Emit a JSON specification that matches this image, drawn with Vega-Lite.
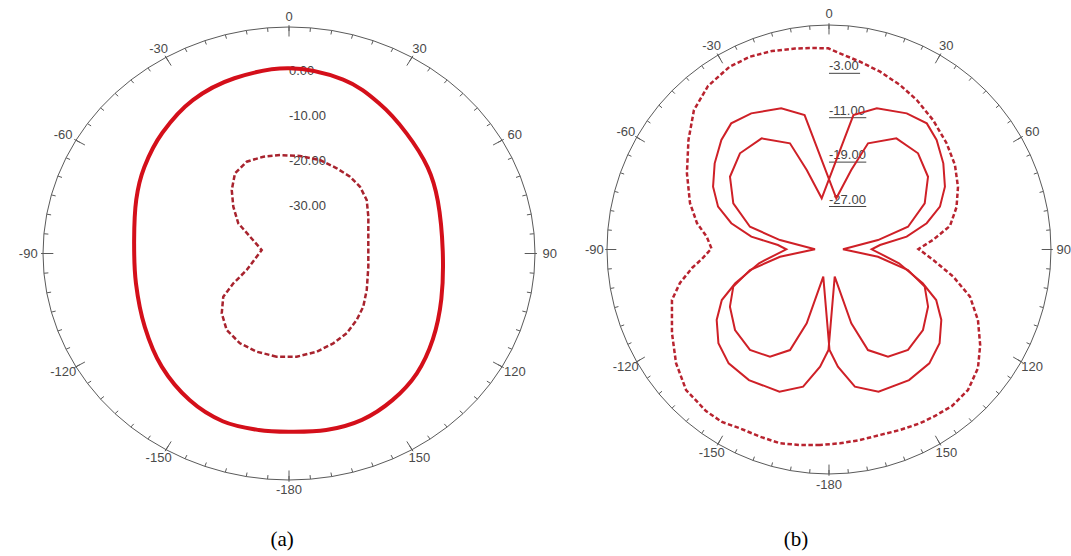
{
  "$schema": "https://vega.github.io/schema/vega-lite/v6.json",
  "padding": 0,
  "autosize": {"type": "pad"},
  "spacing": 0,
  "bounds": "flush",
  "background": "white",
  "config": {"view": {"stroke": null}, "text": {"font": "Liberation Sans"}},
  "datasets": {
    "ticks": [
      {"angle": -175}, {"angle": -170}, {"angle": -165}, {"angle": -160}, {"angle": -155}, {"angle": -150},
      {"angle": -145}, {"angle": -140}, {"angle": -135}, {"angle": -130}, {"angle": -125}, {"angle": -120},
      {"angle": -115}, {"angle": -110}, {"angle": -105}, {"angle": -100}, {"angle": -95}, {"angle": -90},
      {"angle": -85}, {"angle": -80}, {"angle": -75}, {"angle": -70}, {"angle": -65}, {"angle": -60},
      {"angle": -55}, {"angle": -50}, {"angle": -45}, {"angle": -40}, {"angle": -35}, {"angle": -30},
      {"angle": -25}, {"angle": -20}, {"angle": -15}, {"angle": -10}, {"angle": -5}, {"angle": 0},
      {"angle": 5}, {"angle": 10}, {"angle": 15}, {"angle": 20}, {"angle": 25}, {"angle": 30},
      {"angle": 35}, {"angle": 40}, {"angle": 45}, {"angle": 50}, {"angle": 55}, {"angle": 60},
      {"angle": 65}, {"angle": 70}, {"angle": 75}, {"angle": 80}, {"angle": 85}, {"angle": 90},
      {"angle": 95}, {"angle": 100}, {"angle": 105}, {"angle": 110}, {"angle": 115}, {"angle": 120},
      {"angle": 125}, {"angle": 130}, {"angle": 135}, {"angle": 140}, {"angle": 145}, {"angle": 150},
      {"angle": 155}, {"angle": 160}, {"angle": 165}, {"angle": 170}, {"angle": 175}, {"angle": 180}
    ],
    "angleLabels": [
      {"angle": 0, "label": "0"}, {"angle": 30, "label": "30"}, {"angle": 60, "label": "60"},
      {"angle": 90, "label": "90"}, {"angle": 120, "label": "120"}, {"angle": 150, "label": "150"},
      {"angle": 180, "label": "-180"}, {"angle": -150, "label": "-150"}, {"angle": -120, "label": "-120"},
      {"angle": -90, "label": "-90"}, {"angle": -60, "label": "-60"}, {"angle": -30, "label": "-30"}
    ],
    "captionA": [{"label": "(a)"}],
    "captionB": [{"label": "(b)"}],
    "radialA": [
      {"gain": 0, "label": "0.00"}, {"gain": -10, "label": "-10.00"},
      {"gain": -20, "label": "-20.00"}, {"gain": -30, "label": "-30.00"}
    ],
    "radialB": [
      {"gain": -3, "label": "-3.00"}, {"gain": -11, "label": "-11.00"},
      {"gain": -19, "label": "-19.00"}, {"gain": -27, "label": "-27.00"}
    ],
    "solidA": [
      {"angle": -171, "gain": -0.81}, {"angle": -160, "gain": -0.86}, {"angle": -148, "gain": -2.12},
      {"angle": -134, "gain": -4.33}, {"angle": -119, "gain": -6.8}, {"angle": -102, "gain": -8.51},
      {"angle": -85, "gain": -8.71}, {"angle": -69, "gain": -7.05}, {"angle": -57, "gain": -5.24},
      {"angle": -44, "gain": -3.23}, {"angle": -30, "gain": -1.17}, {"angle": -16, "gain": -0.01},
      {"angle": 0, "gain": 0.62}, {"angle": 16, "gain": -0.34}, {"angle": 29, "gain": -2.42},
      {"angle": 42, "gain": -4.59}, {"angle": 56, "gain": -6.3}, {"angle": 69, "gain": -7.91},
      {"angle": 89, "gain": -9.06}, {"angle": 108, "gain": -7.75}, {"angle": 123, "gain": -5.44},
      {"angle": 135.5, "gain": -3.2}, {"angle": 147, "gain": -1.67}, {"angle": 158, "gain": -0.66},
      {"angle": 169, "gain": -0.56}, {"angle": 180, "gain": -0.91}
    ],
    "dashedA": [
      {"angle": -173.7, "gain": -17.45}, {"angle": -163.2, "gain": -17.71}, {"angle": -153.3, "gain": -18.18},
      {"angle": -143.1, "gain": -19.27}, {"angle": -134.0, "gain": -21.38}, {"angle": -125.5, "gain": -23.99},
      {"angle": -120.2, "gain": -27.33}, {"angle": -113.0, "gain": -31.1}, {"angle": -82.1, "gain": -34.86},
      {"angle": -64.9, "gain": -31.7}, {"angle": -57.1, "gain": -28.15}, {"angle": -47.6, "gain": -25.08},
      {"angle": -39.7, "gain": -22.17}, {"angle": -31.8, "gain": -19.54}, {"angle": -23.0, "gain": -18.35},
      {"angle": -13.7, "gain": -18.37}, {"angle": -4.8, "gain": -18.55}, {"angle": 5.9, "gain": -18.73},
      {"angle": 17.0, "gain": -18.79}, {"angle": 27.3, "gain": -19.21}, {"angle": 36.2, "gain": -19.37},
      {"angle": 44.4, "gain": -19.75}, {"angle": 53.2, "gain": -20.66}, {"angle": 63.3, "gain": -22.34},
      {"angle": 79.5, "gain": -24.01}, {"angle": 100.2, "gain": -24.02}, {"angle": 117.0, "gain": -22.66},
      {"angle": 127.9, "gain": -21.26}, {"angle": 136.9, "gain": -20.26}, {"angle": 146.3, "gain": -19.21},
      {"angle": 155.6, "gain": -18.59}, {"angle": 165.4, "gain": -17.97}, {"angle": 176.1, "gain": -17.53}
    ],
    "solidB": [
      {"series": "P", "angle": -168.0, "gain": -30.99}, {"series": "P", "angle": -163.0, "gain": -22.1},
      {"series": "P", "angle": -158.6, "gain": -16.54}, {"series": "P", "angle": -150.9, "gain": -13.89},
      {"series": "P", "angle": -141.5, "gain": -12.87}, {"series": "P", "angle": -130.3, "gain": -13.55},
      {"series": "P", "angle": -119.7, "gain": -15.22}, {"series": "P", "angle": -111.0, "gain": -17.32},
      {"series": "P", "angle": -104.4, "gain": -21.14}, {"series": "P", "angle": -98.3, "gain": -26.98},
      {"series": "P", "angle": -89.2, "gain": -33.45}, {"series": "P", "angle": -79.2, "gain": -26.91},
      {"series": "P", "angle": -74.1, "gain": -21.03}, {"series": "P", "angle": -64.5, "gain": -16.68},
      {"series": "P", "angle": -54.0, "gain": -13.7}, {"series": "P", "angle": -43.1, "gain": -12.26},
      {"series": "P", "angle": -31.5, "gain": -12.51}, {"series": "P", "angle": -20.4, "gain": -15.59},
      {"series": "P", "angle": -15.8, "gain": -21.11}, {"series": "P", "angle": -8.2, "gain": -26.68},
      {"series": "P", "angle": 10.4, "gain": -11.37}, {"series": "P", "angle": 18.9, "gain": -9.11},
      {"series": "P", "angle": 30.0, "gain": -7.67}, {"series": "P", "angle": 38.1, "gain": -7.12},
      {"series": "P", "angle": 44.8, "gain": -8.17}, {"series": "P", "angle": 53.3, "gain": -10.02},
      {"series": "P", "angle": 61.8, "gain": -12.03}, {"series": "P", "angle": 69.1, "gain": -14.36},
      {"series": "P", "angle": 75.1, "gain": -17.58}, {"series": "P", "angle": 80.7, "gain": -21.66},
      {"series": "P", "angle": 85.0, "gain": -26.67}, {"series": "P", "angle": 89.7, "gain": -28.22},
      {"series": "P", "angle": 101.0, "gain": -23.01}, {"series": "P", "angle": 109.6, "gain": -17.87},
      {"series": "P", "angle": 115.0, "gain": -14.45}, {"series": "P", "angle": 121.8, "gain": -11.92},
      {"series": "P", "angle": 130.0, "gain": -9.7}, {"series": "P", "angle": 138.3, "gain": -8.52},
      {"series": "P", "angle": 148.2, "gain": -8.32}, {"series": "P", "angle": 160.6, "gain": -8.83},
      {"series": "P", "angle": 169.2, "gain": -10.84}, {"series": "P", "angle": 175.6, "gain": -14.82},
      {"series": "P", "angle": 179.7, "gain": -17.89},
      {"series": "Q", "angle": -179.7, "gain": -17.89}, {"series": "Q", "angle": -175.6, "gain": -14.82},
      {"series": "Q", "angle": -169.2, "gain": -10.84}, {"series": "Q", "angle": -160.6, "gain": -8.83},
      {"series": "Q", "angle": -148.2, "gain": -8.32}, {"series": "Q", "angle": -138.3, "gain": -8.52},
      {"series": "Q", "angle": -130.0, "gain": -9.7}, {"series": "Q", "angle": -121.8, "gain": -11.92},
      {"series": "Q", "angle": -115.0, "gain": -14.45}, {"series": "Q", "angle": -109.6, "gain": -17.87},
      {"series": "Q", "angle": -101.0, "gain": -23.01}, {"series": "Q", "angle": -89.7, "gain": -28.22},
      {"series": "Q", "angle": -85.0, "gain": -26.67}, {"series": "Q", "angle": -80.7, "gain": -21.66},
      {"series": "Q", "angle": -75.1, "gain": -17.58}, {"series": "Q", "angle": -69.1, "gain": -14.36},
      {"series": "Q", "angle": -61.8, "gain": -12.03}, {"series": "Q", "angle": -53.3, "gain": -10.02},
      {"series": "Q", "angle": -44.8, "gain": -8.17}, {"series": "Q", "angle": -38.1, "gain": -7.12},
      {"series": "Q", "angle": -30.0, "gain": -7.67}, {"series": "Q", "angle": -18.9, "gain": -9.11},
      {"series": "Q", "angle": -10.4, "gain": -11.37}, {"series": "Q", "angle": 8.2, "gain": -26.68},
      {"series": "Q", "angle": 15.8, "gain": -21.11}, {"series": "Q", "angle": 20.4, "gain": -15.59},
      {"series": "Q", "angle": 31.5, "gain": -12.51}, {"series": "Q", "angle": 43.1, "gain": -12.26},
      {"series": "Q", "angle": 54.0, "gain": -13.7}, {"series": "Q", "angle": 64.5, "gain": -16.68},
      {"series": "Q", "angle": 74.1, "gain": -21.03}, {"series": "Q", "angle": 79.2, "gain": -26.91},
      {"series": "Q", "angle": 89.2, "gain": -33.45}, {"series": "Q", "angle": 98.3, "gain": -26.98},
      {"series": "Q", "angle": 104.4, "gain": -21.14}, {"series": "Q", "angle": 111.0, "gain": -17.32},
      {"series": "Q", "angle": 119.7, "gain": -15.22}, {"series": "Q", "angle": 130.3, "gain": -13.55},
      {"series": "Q", "angle": 141.5, "gain": -12.87}, {"series": "Q", "angle": 150.9, "gain": -13.89},
      {"series": "Q", "angle": 158.6, "gain": -16.54}, {"series": "Q", "angle": 163.0, "gain": -22.1},
      {"series": "Q", "angle": 168.0, "gain": -30.99}
    ],
    "dashedB": [
      {"angle": -177.3, "gain": -0.74}, {"angle": -171.5, "gain": -0.38}, {"angle": -165.7, "gain": 0.04},
      {"angle": -159.6, "gain": 0.0}, {"angle": -153.3, "gain": 0.07}, {"angle": -147.9, "gain": 0.69},
      {"angle": -142.4, "gain": 0.73}, {"angle": -134.2, "gain": 0.32}, {"angle": -126.3, "gain": -1.42},
      {"angle": -117.7, "gain": -3.68}, {"angle": -107.6, "gain": -5.98}, {"angle": -102.5, "gain": -8.19},
      {"angle": -97.6, "gain": -10.82}, {"angle": -94.2, "gain": -12.79}, {"angle": -89.5, "gain": -14.59},
      {"angle": -84.1, "gain": -13.6}, {"angle": -78.8, "gain": -11.48}, {"angle": -71.7, "gain": -9.32},
      {"angle": -62.0, "gain": -6.68}, {"angle": -52.4, "gain": -3.68}, {"angle": -44.4, "gain": -0.83},
      {"angle": -36.8, "gain": 0.8}, {"angle": -28.8, "gain": 1.59}, {"angle": -22.5, "gain": 1.6},
      {"angle": -16.2, "gain": 1.24}, {"angle": -9.7, "gain": 0.74}, {"angle": -5.4, "gain": 0.47},
      {"angle": -0.2, "gain": 0.25}, {"angle": 3.2, "gain": -0.59}, {"angle": 9.5, "gain": -1.7},
      {"angle": 16.2, "gain": -2.64}, {"angle": 23.6, "gain": -3.66}, {"angle": 30.7, "gain": -4.68},
      {"angle": 39.1, "gain": -5.94}, {"angle": 48.1, "gain": -7.25}, {"angle": 56.4, "gain": -8.45},
      {"angle": 64.4, "gain": -9.94}, {"angle": 71.8, "gain": -11.54}, {"angle": 79.1, "gain": -13.55},
      {"angle": 84.8, "gain": -16.97}, {"angle": 89.7, "gain": -19.69}, {"angle": 95.7, "gain": -16.9},
      {"angle": 102.2, "gain": -12.83}, {"angle": 108.3, "gain": -8.94}, {"angle": 115.1, "gain": -6.03},
      {"angle": 122.0, "gain": -3.52}, {"angle": 128.2, "gain": -1.46}, {"angle": 135.0, "gain": -0.19},
      {"angle": 141.5, "gain": 0.02}, {"angle": 147.2, "gain": -0.32}, {"angle": 152.1, "gain": -0.57},
      {"angle": 158.3, "gain": -1.0}, {"angle": 164.5, "gain": -1.31}, {"angle": 170.7, "gain": -1.21},
      {"angle": 176.7, "gain": -1.02}
    ]
  },
  "hconcat": [
    {
      "width": 560,
      "height": 556,
      "encoding": {
        "x": {"field": "x", "type": "quantitative", "scale": {"domain": [-1.1748, 1.1016], "nice": false, "zero": false}, "axis": null},
        "y": {"field": "y", "type": "quantitative", "scale": {"domain": [-1.3355, 1.1192], "nice": false, "zero": false}, "axis": null}
      },
      "layer": [
        {
          "data": {"name": "ticks"},
          "transform": [
            {"calculate": "sin(datum.angle*PI/180)", "as": "x"},
            {"calculate": "cos(datum.angle*PI/180)", "as": "y"}
          ],
          "mark": {"type": "line", "interpolate": "linear-closed", "color": "#5a5a5a", "strokeWidth": 1},
          "encoding": {"order": {"field": "angle", "type": "quantitative"}}
        },
        {
          "data": {"name": "ticks"},
          "transform": [
            {"calculate": "sin(datum.angle*PI/180)", "as": "x"},
            {"calculate": "cos(datum.angle*PI/180)", "as": "y"},
            {"calculate": "0.982*sin(datum.angle*PI/180)", "as": "x2"},
            {"calculate": "0.982*cos(datum.angle*PI/180)", "as": "y2"}
          ],
          "mark": {"type": "rule", "color": "#5a5a5a", "strokeWidth": 1},
          "encoding": {"x2": {"field": "x2"}, "y2": {"field": "y2"}}
        },
        {
          "data": {"name": "ticks"},
          "transform": [
            {"filter": "datum.angle % 30 == 0"},
            {"calculate": "1.008*sin(datum.angle*PI/180)", "as": "x"},
            {"calculate": "1.008*cos(datum.angle*PI/180)", "as": "y"},
            {"calculate": "0.958*sin(datum.angle*PI/180)", "as": "x2"},
            {"calculate": "0.958*cos(datum.angle*PI/180)", "as": "y2"}
          ],
          "mark": {"type": "rule", "color": "#5a5a5a", "strokeWidth": 1},
          "encoding": {"x2": {"field": "x2"}, "y2": {"field": "y2"}}
        },
        {
          "data": {"name": "angleLabels"},
          "transform": [
            {"calculate": "1.06*sin(datum.angle*PI/180)", "as": "x"},
            {"calculate": "1.043*cos(datum.angle*PI/180)", "as": "y"}
          ],
          "mark": {"type": "text", "fontSize": 13, "color": "#4a4a4a", "align": "center", "baseline": "middle"},
          "encoding": {"text": {"field": "label"}}
        },
        {
          "data": {"name": "radialA"},
          "transform": [
            {"calculate": "0", "as": "x"},
            {"calculate": "(datum.gain + 40.5) / 50.3", "as": "y"}
          ],
          "mark": {"type": "text", "fontSize": 13, "color": "#444444", "align": "left", "baseline": "middle"},
          "encoding": {"text": {"field": "label"}}
        },
        {
          "data": {"name": "dashedA"},
          "transform": [
            {"calculate": "(datum.gain + 40.5) / 50.3", "as": "r"},
            {"calculate": "datum.r*sin(datum.angle*PI/180)", "as": "x"},
            {"calculate": "datum.r*cos(datum.angle*PI/180)", "as": "y"}
          ],
          "mark": {"type": "line", "interpolate": "linear-closed", "color": "#a8232e", "strokeWidth": 2.5, "strokeDash": [5, 2.5]},
          "encoding": {"order": {"field": "angle", "type": "quantitative"}}
        },
        {
          "data": {"name": "solidA"},
          "transform": [
            {"calculate": "(datum.gain + 40.5) / 50.3", "as": "r"},
            {"calculate": "datum.r*sin(datum.angle*PI/180)", "as": "x"},
            {"calculate": "datum.r*cos(datum.angle*PI/180)", "as": "y"}
          ],
          "mark": {"type": "line", "interpolate": "cardinal-closed", "color": "#d40f1a", "strokeWidth": 4},
          "encoding": {"order": {"field": "angle", "type": "quantitative"}}
        },
        {
          "data": {"name": "captionA"},
          "transform": [
            {"calculate": "-0.028", "as": "x"},
            {"calculate": "-1.265", "as": "y"}
          ],
          "mark": {"type": "text", "font": "Liberation Serif", "fontSize": 21, "color": "#000000", "align": "center", "baseline": "middle"},
          "encoding": {"text": {"field": "label"}}
        }
      ]
    },
    {
      "width": 511,
      "height": 556,
      "encoding": {
        "x": {"field": "x", "type": "quantitative", "scale": {"domain": [-1.2117, 1.0901], "nice": false, "zero": false}, "axis": null},
        "y": {"field": "y", "type": "quantitative", "scale": {"domain": [-1.3653, 1.1114], "nice": false, "zero": false}, "axis": null}
      },
      "layer": [
        {
          "data": {"name": "ticks"},
          "transform": [
            {"calculate": "sin(datum.angle*PI/180)", "as": "x"},
            {"calculate": "cos(datum.angle*PI/180)", "as": "y"}
          ],
          "mark": {"type": "line", "interpolate": "linear-closed", "color": "#5a5a5a", "strokeWidth": 1},
          "encoding": {"order": {"field": "angle", "type": "quantitative"}}
        },
        {
          "data": {"name": "ticks"},
          "transform": [
            {"calculate": "sin(datum.angle*PI/180)", "as": "x"},
            {"calculate": "cos(datum.angle*PI/180)", "as": "y"},
            {"calculate": "0.982*sin(datum.angle*PI/180)", "as": "x2"},
            {"calculate": "0.982*cos(datum.angle*PI/180)", "as": "y2"}
          ],
          "mark": {"type": "rule", "color": "#5a5a5a", "strokeWidth": 1},
          "encoding": {"x2": {"field": "x2"}, "y2": {"field": "y2"}}
        },
        {
          "data": {"name": "ticks"},
          "transform": [
            {"filter": "datum.angle % 30 == 0"},
            {"calculate": "1.008*sin(datum.angle*PI/180)", "as": "x"},
            {"calculate": "1.008*cos(datum.angle*PI/180)", "as": "y"},
            {"calculate": "0.958*sin(datum.angle*PI/180)", "as": "x2"},
            {"calculate": "0.958*cos(datum.angle*PI/180)", "as": "y2"}
          ],
          "mark": {"type": "rule", "color": "#5a5a5a", "strokeWidth": 1},
          "encoding": {"x2": {"field": "x2"}, "y2": {"field": "y2"}}
        },
        {
          "data": {"name": "angleLabels"},
          "transform": [
            {"calculate": "1.057*sin(datum.angle*PI/180)", "as": "x"},
            {"calculate": "1.047*cos(datum.angle*PI/180)", "as": "y"}
          ],
          "mark": {"type": "text", "fontSize": 13, "color": "#4a4a4a", "align": "center", "baseline": "middle"},
          "encoding": {"text": {"field": "label"}}
        },
        {
          "data": {"name": "radialB"},
          "transform": [
            {"calculate": "0", "as": "x"},
            {"calculate": "(datum.gain + 36) / 40.45", "as": "y"}
          ],
          "mark": {"type": "text", "fontSize": 13, "color": "#444444", "align": "left", "baseline": "middle"},
          "encoding": {"text": {"field": "label"}}
        },
        {
          "data": {"name": "radialB"},
          "transform": [
            {"calculate": "0", "as": "x"},
            {"calculate": "(datum.gain + 36) / 40.45 - 0.031", "as": "y"},
            {"calculate": "datum.label.length * 0.028", "as": "x2"}
          ],
          "mark": {"type": "rule", "color": "#444444", "strokeWidth": 1},
          "encoding": {"x2": {"field": "x2"}}
        },
        {
          "data": {"name": "dashedB"},
          "transform": [
            {"calculate": "(datum.gain + 36) / 40.45", "as": "r"},
            {"calculate": "datum.r*sin(datum.angle*PI/180)", "as": "x"},
            {"calculate": "datum.r*cos(datum.angle*PI/180)", "as": "y"}
          ],
          "mark": {"type": "line", "interpolate": "linear-closed", "color": "#b8232f", "strokeWidth": 2.5, "strokeDash": [4.5, 2.5]},
          "encoding": {"order": {"field": "angle", "type": "quantitative"}}
        },
        {
          "data": {"name": "solidB"},
          "transform": [
            {"calculate": "(datum.gain + 36) / 40.45", "as": "r"},
            {"calculate": "datum.r*sin(datum.angle*PI/180)", "as": "x"},
            {"calculate": "datum.r*cos(datum.angle*PI/180)", "as": "y"}
          ],
          "mark": {"type": "line", "interpolate": "linear-closed", "color": "#cf2027", "strokeWidth": 2},
          "encoding": {
            "detail": {"field": "series"},
            "order": {"field": "angle", "type": "quantitative"}
          }
        },
        {
          "data": {"name": "captionB"},
          "transform": [
            {"calculate": "-0.149", "as": "x"},
            {"calculate": "-1.294", "as": "y"}
          ],
          "mark": {"type": "text", "font": "Liberation Serif", "fontSize": 21, "color": "#000000", "align": "center", "baseline": "middle"},
          "encoding": {"text": {"field": "label"}}
        }
      ]
    }
  ]
}
